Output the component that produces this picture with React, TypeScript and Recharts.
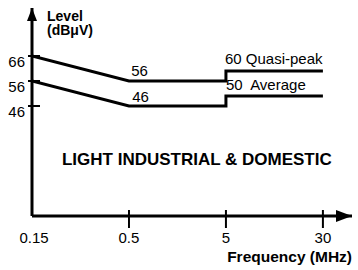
import React from "react";
import {
  LineChart,
  Line,
  XAxis,
  YAxis,
  ReferenceDot,
} from "recharts";

// x positions are category slots: 0.15, 0.5, 5, 30 MHz drawn evenly spaced
const freqTicks = [0, 1, 2, 3];
const freqLabels = ["0.15", "0.5", "5", "30"];
const levelTicks = [46, 56, 66];

const quasiPeakX = [0, 1, 2, 2, 3];
const quasiPeakY = [66, 56, 56, 60, 60];
const averageX = [0, 1, 2, 2, 3];
const averageY = [56, 46, 46, 50, 50];

const quasiPeak = quasiPeakX.map((x, i) => ({ x, y: quasiPeakY[i] }));
const average = averageX.map((x, i) => ({ x, y: averageY[i] }));

const FONT = "'Liberation Sans', Arial, sans-serif";

const XTick = (props: any) => {
  const { x, y, payload } = props;
  const idx = freqTicks.indexOf(payload.value);
  return (
    <g>
      {payload.value > 0 && (
        <line x1={x} x2={x} y1={y - 6} y2={y + 12} stroke="#000" strokeWidth={2} />
      )}
      <text x={x + (idx === 0 ? 2 : 0)} y={y + 27} textAnchor="middle" fontSize={15} fill="#000">
        {freqLabels[idx]}
      </text>
    </g>
  );
};

const YTick = (props: any) => {
  const { x, y, payload } = props;
  return (
    <g>
      <line x1={x - 4} x2={x + 8} y1={y} y2={y} stroke="#000" strokeWidth={2} />
      <text x={x - 7} y={y + 11} textAnchor="end" fontSize={15} fill="#000">
        {payload.value}
      </text>
    </g>
  );
};

const textShape =
  (label: string, opts: { anchor?: string; size?: number; bold?: boolean }) =>
  (props: any) =>
    (
      <text
        x={props.cx}
        y={props.cy}
        textAnchor={opts.anchor || "start"}
        fontSize={opts.size || 15}
        fontWeight={opts.bold ? "bold" : "normal"}
        fill="#000"
        style={{ whiteSpace: "pre" }}
      >
        {label}
      </text>
    );

const xArrow = (props: any) => (
  <polygon
    points={`${props.cx},${props.cy} ${props.cx - 16},${props.cy - 6} ${props.cx - 16},${props.cy + 6}`}
    fill="#000"
  />
);

const yArrow = (props: any) => (
  <polygon
    points={`${props.cx},${props.cy} ${props.cx - 5},${props.cy + 13} ${props.cx + 5},${props.cy + 13}`}
    fill="#000"
  />
);

export default function App() {
  return (
    <div
      style={{
        position: "absolute",
        left: 0,
        top: 0,
        width: 358,
        height: 270,
        background: "#fff",
        fontFamily: FONT,
      }}
    >
      <LineChart
        width={358}
        height={270}
        margin={{ top: 8, right: 6, left: 0, bottom: 0 }}
      >
        <XAxis
          type="number"
          dataKey="x"
          domain={[0, 3.3]}
          ticks={freqTicks}
          allowDataOverflow
          height={54}
          tickSize={0}
          tickMargin={0}
          tickLine={false}
          tick={<XTick />}
          axisLine={{ stroke: "#000", strokeWidth: 3 }}
        />
        <YAxis
          type="number"
          domain={[2, 85.2]}
          ticks={levelTicks}
          allowDataOverflow
          width={32}
          tickSize={0}
          tickMargin={0}
          tickLine={false}
          tick={<YTick />}
          axisLine={{ stroke: "#000", strokeWidth: 3 }}
        />
        <Line
          data={quasiPeak}
          dataKey="y"
          type="linear"
          stroke="#000"
          strokeWidth={3}
          dot={false}
          isAnimationActive={false}
        />
        <Line
          data={average}
          dataKey="y"
          type="linear"
          stroke="#000"
          strokeWidth={3}
          dot={false}
          isAnimationActive={false}
        />
        <ReferenceDot x={3.3} y={2} ifOverflow="visible" shape={xArrow} />
        <ReferenceDot x={0} y={85.2} ifOverflow="visible" shape={yArrow} />
        <ReferenceDot x={0.155} y={80.2} ifOverflow="visible" shape={textShape("Level", { size: 14, bold: true })} />
        <ReferenceDot x={0.155} y={74.4} ifOverflow="visible" shape={textShape("(dBμV)", { size: 14, bold: true })} />
        <ReferenceDot x={1.11} y={58} ifOverflow="visible" shape={textShape("56", { anchor: "middle" })} />
        <ReferenceDot x={1.12} y={47.8} ifOverflow="visible" shape={textShape("46", { anchor: "middle" })} />
        <ReferenceDot x={1.99} y={62.8} ifOverflow="visible" shape={textShape("60 Quasi-peak", {})} />
        <ReferenceDot x={2.0} y={52.4} ifOverflow="visible" shape={textShape("50  Average", {})} />
        <ReferenceDot
          x={1.7}
          y={22.4}
          ifOverflow="visible"
          shape={textShape("LIGHT INDUSTRIAL & DOMESTIC", { anchor: "middle", size: 17, bold: true })}
        />
        <ReferenceDot
          x={3.3}
          y={-16.4}
          ifOverflow="visible"
          shape={textShape("Frequency (MHz)", { anchor: "end", size: 15.5, bold: true })}
        />
      </LineChart>
    </div>
  );
}
